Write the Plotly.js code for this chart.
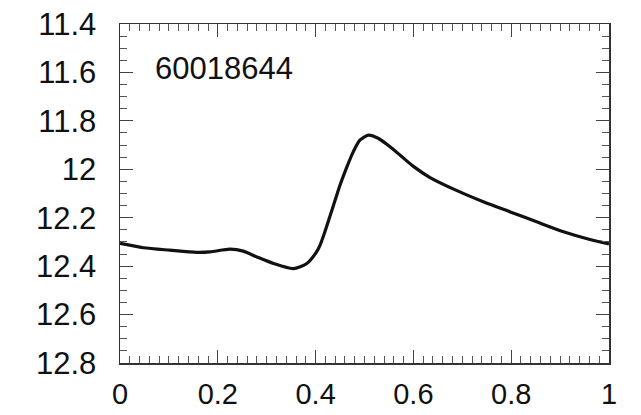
<!DOCTYPE html>
<html>
<head>
<meta charset="utf-8">
<script src="https://cdn.plot.ly/plotly-3.0.1.min.js"></script>
<style>html,body{margin:0;padding:0;background:#fff;}#plot{width:641px;height:415px;}</style>
</head>
<body>
<div id="plot"></div>
<script>
const phase = [0.000, 0.048, 0.102, 0.157, 0.184, 0.225, 0.252, 0.280, 0.314, 0.354, 0.382, 0.402,
  0.409, 0.419, 0.429, 0.440, 0.450, 0.464, 0.477, 0.491, 0.508, 0.528, 0.552, 0.573, 0.600,
  0.634, 0.688, 0.743, 0.798, 0.852, 0.907, 0.961, 1.000];
const mag = [12.306, 12.324, 12.334, 12.343, 12.341, 12.330, 12.338, 12.362, 12.389, 12.410, 12.389, 12.341,
  12.314, 12.258, 12.196, 12.127, 12.065, 11.990, 11.928, 11.879, 11.859, 11.872, 11.907, 11.942, 11.988,
  12.034, 12.087, 12.134, 12.176, 12.217, 12.258, 12.290, 12.308];
const starId = "60018644";
const xTicks = [0, 0.2, 0.4, 0.6, 0.8, 1];
const xTickText = ["0", "0.2", "0.4", "0.6", "0.8", "1"];
const yTicks = [11.4, 11.6, 11.8, 12, 12.2, 12.4, 12.6, 12.8];
const yTickText = ["11.4", "11.6", "11.8", "12", "12.2", "12.4", "12.6", "12.8"];

const fontFam = "Liberation Sans, Arial, Helvetica, sans-serif";
const trace = {
  x: phase, y: mag, type: "scatter", mode: "lines",
  line: {color: "#111", width: 3.2, shape: "spline", smoothing: 0.7},
  hoverinfo: "skip"
};
const axisCommon = {
  showgrid: false, zeroline: false, showline: true, linecolor: "#333", linewidth: 1.5,
  mirror: "allticks", ticks: "inside", ticklen: 13, tickwidth: 1.2, tickcolor: "#444",
  tickfont: {family: fontFam, size: 31, color: "#111"}, tickmode: "array"
};
const layout = {
  width: 641, height: 415,
  margin: {l: 120, r: 32, t: 24, b: 52},
  paper_bgcolor: "#fff", plot_bgcolor: "#fff",
  showlegend: false,
  xaxis: Object.assign({}, axisCommon, {
    range: [0, 1], tickvals: xTicks, ticktext: xTickText, ticklabelstandoff: 5,
    tickfont: {family: fontFam, size: 29, color: "#111"},
    minor: {dtick: 0.02, ticks: "inside", ticklen: 7, tickwidth: 1, tickcolor: "#555"}
  }),
  yaxis: Object.assign({}, axisCommon, {
    range: [12.8, 11.4], tickvals: yTicks, ticktext: yTickText, ticklabelstandoff: 16,
    minor: {dtick: 0.05, ticks: "inside", ticklen: 7, tickwidth: 1, tickcolor: "#555"}
  }),
  annotations: [{
    x: 0.067, y: 11.582, xref: "x", yref: "y", xanchor: "left", yanchor: "middle",
    text: starId, showarrow: false, font: {family: fontFam, size: 31, color: "#111"}
  }]
};
Plotly.newPlot("plot", [trace], layout, {displayModeBar: false, staticPlot: true});
</script>
</body>
</html>
